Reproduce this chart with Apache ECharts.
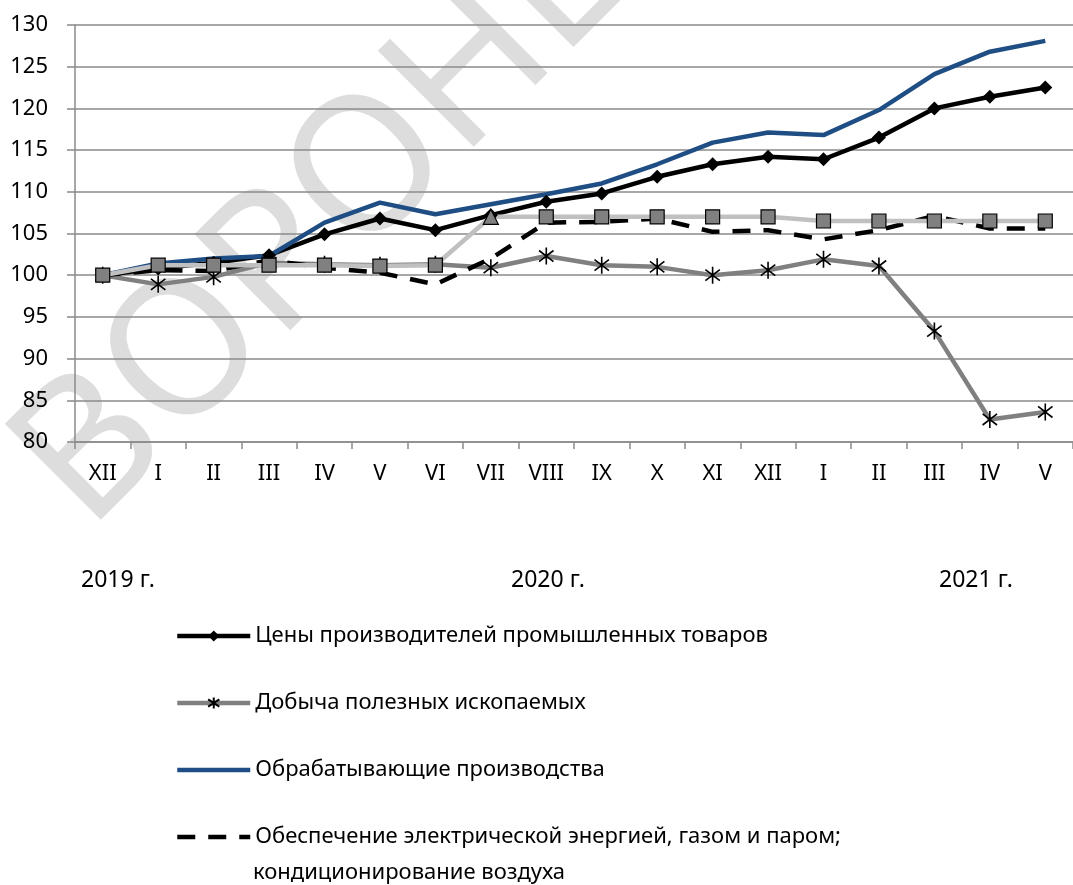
<!DOCTYPE html>
<html>
<head>
<meta charset="utf-8">
<script src="https://cdn.jsdelivr.net/npm/echarts@6/dist/echarts.min.js"></script>
<style>
html,body{margin:0;padding:0;background:#fff;}
#chart{width:1073px;height:885px;}
</style>
</head>
<body>
<div id="chart"></div>
<script>
// ---- data ----
var categories = ['XII','I','II','III','IV','V','VI','VII','VIII','IX','X','XI','XII','I','II','III','IV','V'];
var yearLabels = ['2019 г.','2020 г.','2021 г.'];
var seriesNames = [
  'Цены производителей промышленных товаров',
  'Добыча полезных ископаемых',
  'Обрабатывающие производства',
  'Обеспечение электрической энергией, газом и паром; кондиционирование воздуха',
  'Водоснабжение; водоотведение, организация сбора и утилизации отходов'
];
var prices        = [100, 100.8, 101.5, 102.4, 104.9, 106.8, 105.4, 107.2, 108.8, 109.8, 111.8, 113.3, 114.2, 113.9, 116.5, 120.0, 121.4, 122.5];
var mining        = [100, 98.9, 99.8, 101.5, 101.3, 101.2, 101.3, 100.9, 102.3, 101.2, 101.0, 100.0, 100.6, 101.9, 101.1, 93.3, 82.7, 83.6];
var manufacturing = [100, 101.4, 102.0, 102.3, 106.3, 108.7, 107.3, 108.5, 109.7, 111.0, 113.3, 115.9, 117.1, 116.8, 119.8, 124.1, 126.8, 128.1];
var electricity   = [100, 100.6, 100.5, 101.8, 100.9, 100.3, 98.9, 102.0, 106.3, 106.4, 106.8, 105.2, 105.4, 104.3, 105.4, 107.1, 105.6, 105.6];
var water         = [100, 101.2, 101.2, 101.2, 101.2, 101.1, 101.2, 107.0, 107.0, 107.0, 107.0, 107.0, 107.0, 106.5, 106.5, 106.5, 106.5, 106.5];
var watermarkText = 'ВОРОНЕЖ';

var FONT = '"Noto Sans", "Open Sans", sans-serif';
var asterisk = 'path://M0,-10L0,10M-8.5,-6.5L8.5,6.5M-8.5,6.5L8.5,-6.5';

var waterData = water.map(function (v, i) {
  return i === 7 ? { value: v, symbol: 'triangle', symbolSize: 15 } : v;
});

var chart = echarts.init(document.getElementById('chart'), null, { renderer: 'canvas' });
chart.setOption({
  animation: false,
  backgroundColor: '#ffffff',
  textStyle: { fontFamily: FONT },
  grid: { left: 75, right: -7, top: 25, bottom: 443, containLabel: false },
  xAxis: {
    type: 'category',
    data: categories,
    boundaryGap: true,
    axisLine: { show: true, lineStyle: { color: '#8a8a8a', width: 1.5 } },
    axisTick: { show: true, length: 7, interval: 0, lineStyle: { color: '#8a8a8a', width: 1.5 } },
    axisLabel: { interval: 0, margin: 21, color: '#000', fontSize: 22, fontFamily: FONT },
    splitLine: { show: false }
  },
  yAxis: {
    type: 'value',
    min: 80, max: 130, interval: 5,
    axisLine: { show: true, lineStyle: { color: '#8a8a8a', width: 1.5 } },
    axisTick: { show: true, length: 8, lineStyle: { color: '#8a8a8a', width: 1.5 } },
    axisLabel: { margin: 27, color: '#000', fontSize: 22, fontFamily: FONT },
    splitLine: { show: true, lineStyle: { color: '#8a8a8a', width: 1.5 } }
  },
  legend: {
    orient: 'vertical',
    left: 175, top: 624, padding: 0,
    itemWidth: 73, itemHeight: 14,
    itemGap: 43,
    lineStyle: { width: 4.5 },
    data: [
      { name: seriesNames[0] },
      { name: seriesNames[1] },
      { name: seriesNames[2], itemStyle: { opacity: 0 } },
      { name: seriesNames[3], itemStyle: { opacity: 0 } }
    ],
    textStyle: { color: '#000', fontSize: 22, lineHeight: 24, fontFamily: FONT },
    formatter: function (name) {
      return name === seriesNames[3] ? 'Обеспечение электрической энергией, газом и паром;' : name;
    },
    selectedMode: false
  },
  graphic: [
    {
      type: 'text', x: 384, y: 160, rotation: Math.PI / 4, z: -10, silent: true,
      style: { text: watermarkText, font: '190px ' + FONT, fill: '#dddddd', align: 'center', verticalAlign: 'middle' }
    },
    { type: 'text', x: 118, y: 580, style: { text: yearLabels[0], font: '23px ' + FONT, fill: '#000', align: 'center', verticalAlign: 'middle' } },
    { type: 'text', x: 548, y: 580, style: { text: yearLabels[1], font: '23px ' + FONT, fill: '#000', align: 'center', verticalAlign: 'middle' } },
    { type: 'text', x: 976, y: 580, style: { text: yearLabels[2], font: '23px ' + FONT, fill: '#000', align: 'center', verticalAlign: 'middle' } },
    { type: 'text', x: 253, y: 873, style: { text: 'кондиционирование воздуха', font: '22px ' + FONT, fill: '#000', align: 'left', verticalAlign: 'middle' } }
  ],
  series: [
    {
      name: seriesNames[0], type: 'line', data: prices,
      symbol: 'diamond', symbolSize: 14, showAllSymbol: true,
      lineStyle: { color: '#000', width: 4.5 },
      itemStyle: { color: '#000' }
    },
    {
      name: seriesNames[1], type: 'line', data: mining,
      symbol: asterisk, symbolSize: 17, symbolKeepAspect: true, showAllSymbol: true,
      lineStyle: { color: '#808080', width: 4.5 },
      itemStyle: { color: '#808080', borderColor: '#000', borderWidth: 1.6 }
    },
    {
      name: seriesNames[2], type: 'line', data: manufacturing,
      symbol: 'none',
      lineStyle: { color: '#1f4e84', width: 4.5 },
      itemStyle: { color: '#1f4e84' }
    },
    {
      name: seriesNames[3], type: 'line', data: electricity,
      symbol: 'none',
      lineStyle: { color: '#000', width: 4.5, type: [18, 13] },
      itemStyle: { color: '#000' }
    },
    {
      name: seriesNames[4], type: 'line', data: waterData,
      symbol: 'rect', symbolSize: 14, showAllSymbol: true,
      lineStyle: { color: '#c0c0c0', width: 4.5 },
      itemStyle: { color: '#808080', borderColor: '#000', borderWidth: 1.2 }
    }
  ]
});
</script>
</body>
</html>
